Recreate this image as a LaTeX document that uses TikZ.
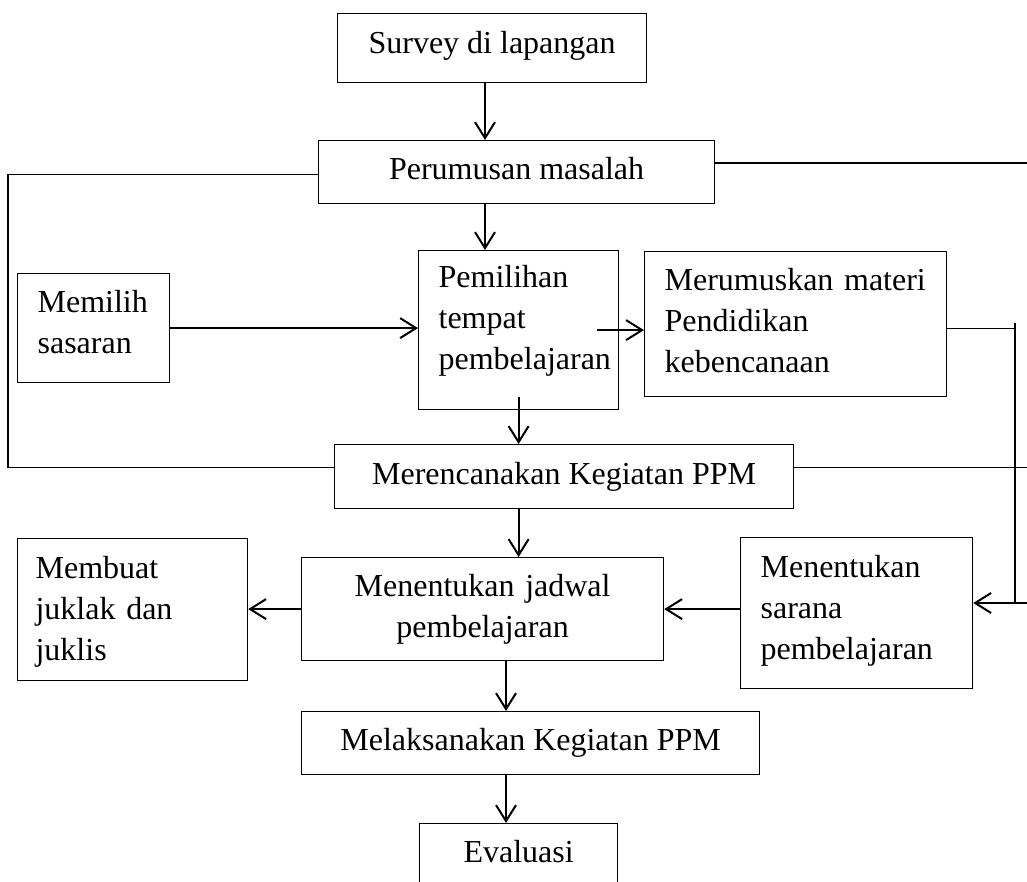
\documentclass[tikz,border=0pt]{standalone}
\usepackage{fontspec}
\setmainfont{Liberation Serif}
\usetikzlibrary{arrows.meta}

\begin{document}
\begin{tikzpicture}[x=0.5pt, y=-0.5pt,
  font=\fontsize{16pt}{20.5pt}\selectfont,
  kotak/.style={draw, line width=0.6pt, inner ysep=0pt, anchor=north west},
  kiri/.style={kotak, align=left},
  panah/.style={line width=1pt, -{Straight Barb[length=8pt, width=10pt, line width=1pt]}},
  garis/.style={line width=0.75pt}]

\useasboundingbox (0,0) rectangle (1027,882);
\clip (0,0) rectangle (1027,882);

\coordinate (kolKiri) at (8,0);
\coordinate (kolKanan) at (1015,0);
\coordinate (tepi) at (1027,0);

\node[kotak, minimum width=154.5pt, text height=20pt, text depth=14.5pt] (survey) at (337,13) {Survey di lapangan};
\node[kotak, minimum width=198pt, text height=19.5pt, text depth=12pt] (rumus) at (318,140) {Perumusan masalah};

\node[kiri, text width=56pt, inner xsep=10pt, text height=19.5pt, text depth=35pt] (sasaran) at (17,273) {Memilih\\sasaran};
\node[kiri, text width=80pt, inner xsep=10pt, text height=18.5pt, text depth=61pt] (tempat) at (418,250) {Pemilihan\\tempat\\pembelajaran};
\node[kiri, text width=131pt, inner xsep=10pt, text height=19.5pt, text depth=53pt] (materi) at (644,251) {Merumuskan~materi\\Pendidikan\\kebencanaan};

\node[kotak, minimum width=229.5pt, text height=20pt, text depth=12pt] (rencana) at (334,444) {Merencanakan Kegiatan PPM};

% Baris jadwal
\node[kiri, text width=97pt, inner xsep=9pt, text height=20pt, text depth=51pt] (juklak) at (17,538) {Membuat\\juklak dan\\juklis};
\node[kotak, align=center, text width=181pt, inner xsep=0pt, text height=19.25pt, text depth=32.25pt] (jadwal) at (301,557) {Menentukan jadwal\\pembelajaran};
\node[kiri, text width=96pt, inner xsep=10pt, text height=20pt, text depth=55.5pt] (sarana) at (740,537) {Menentukan\\sarana\\pembelajaran};

\node[kotak, minimum width=229pt, text height=19.5pt, text depth=12pt] (laksana) at (301,711) {Melaksanakan Kegiatan PPM};
\node[kotak, minimum width=99pt, text height=19.5pt, text depth=40pt] (evaluasi) at (419,823) {Evaluasi};

\draw[panah] (survey.south -| 485,0) -- (rumus.north -| 485,0);
\draw[panah] (rumus.south -| 485,0) -- (tempat.north -| 485,0);
\draw[panah] (sasaran.east) -- (sasaran.east -| tempat.west);
\draw[panah] ([xshift=-11pt]tempat.east) -- (materi.west |- tempat.east);
\draw[panah] ([yshift=6.5pt]tempat.south) -- (rencana.north -| tempat.south);
\draw[panah] (rencana.south -| tempat.south) -- (jadwal.north -| tempat.south);
\draw[panah] (jadwal.west) -- (jadwal.west -| juklak.east);
\draw[panah] (sarana.west |- jadwal.east) -- (jadwal.east);
\draw[panah] (jadwal.south -| 506,0) -- (laksana.north -| 506,0);
\draw[panah] (laksana.south -| 506,0) -- (evaluasi.north -| 506,0);

% garis balik
\draw[garis] ([yshift=-1.25pt]rumus.west) -| (kolKiri |- 0,300) |- ([yshift=4.5pt]rencana.west);
\draw[garis] ([yshift=4.5pt]rumus.east) -- ([yshift=4.5pt]rumus.east -| tepi);
\draw[garis] ([yshift=4.5pt]rencana.east) -- ([yshift=4.5pt]rencana.east -| tepi);
\draw[garis] ([yshift=-2.25pt]materi.east) -- ([yshift=-2.25pt]materi.east -| kolKanan);
\draw[garis] (kolKanan |- 0,323) -- (kolKanan |- 0,603);
\draw[panah] (tepi |- 0,603) -- (sarana.east |- 0,603);
\end{tikzpicture}
\end{document}
